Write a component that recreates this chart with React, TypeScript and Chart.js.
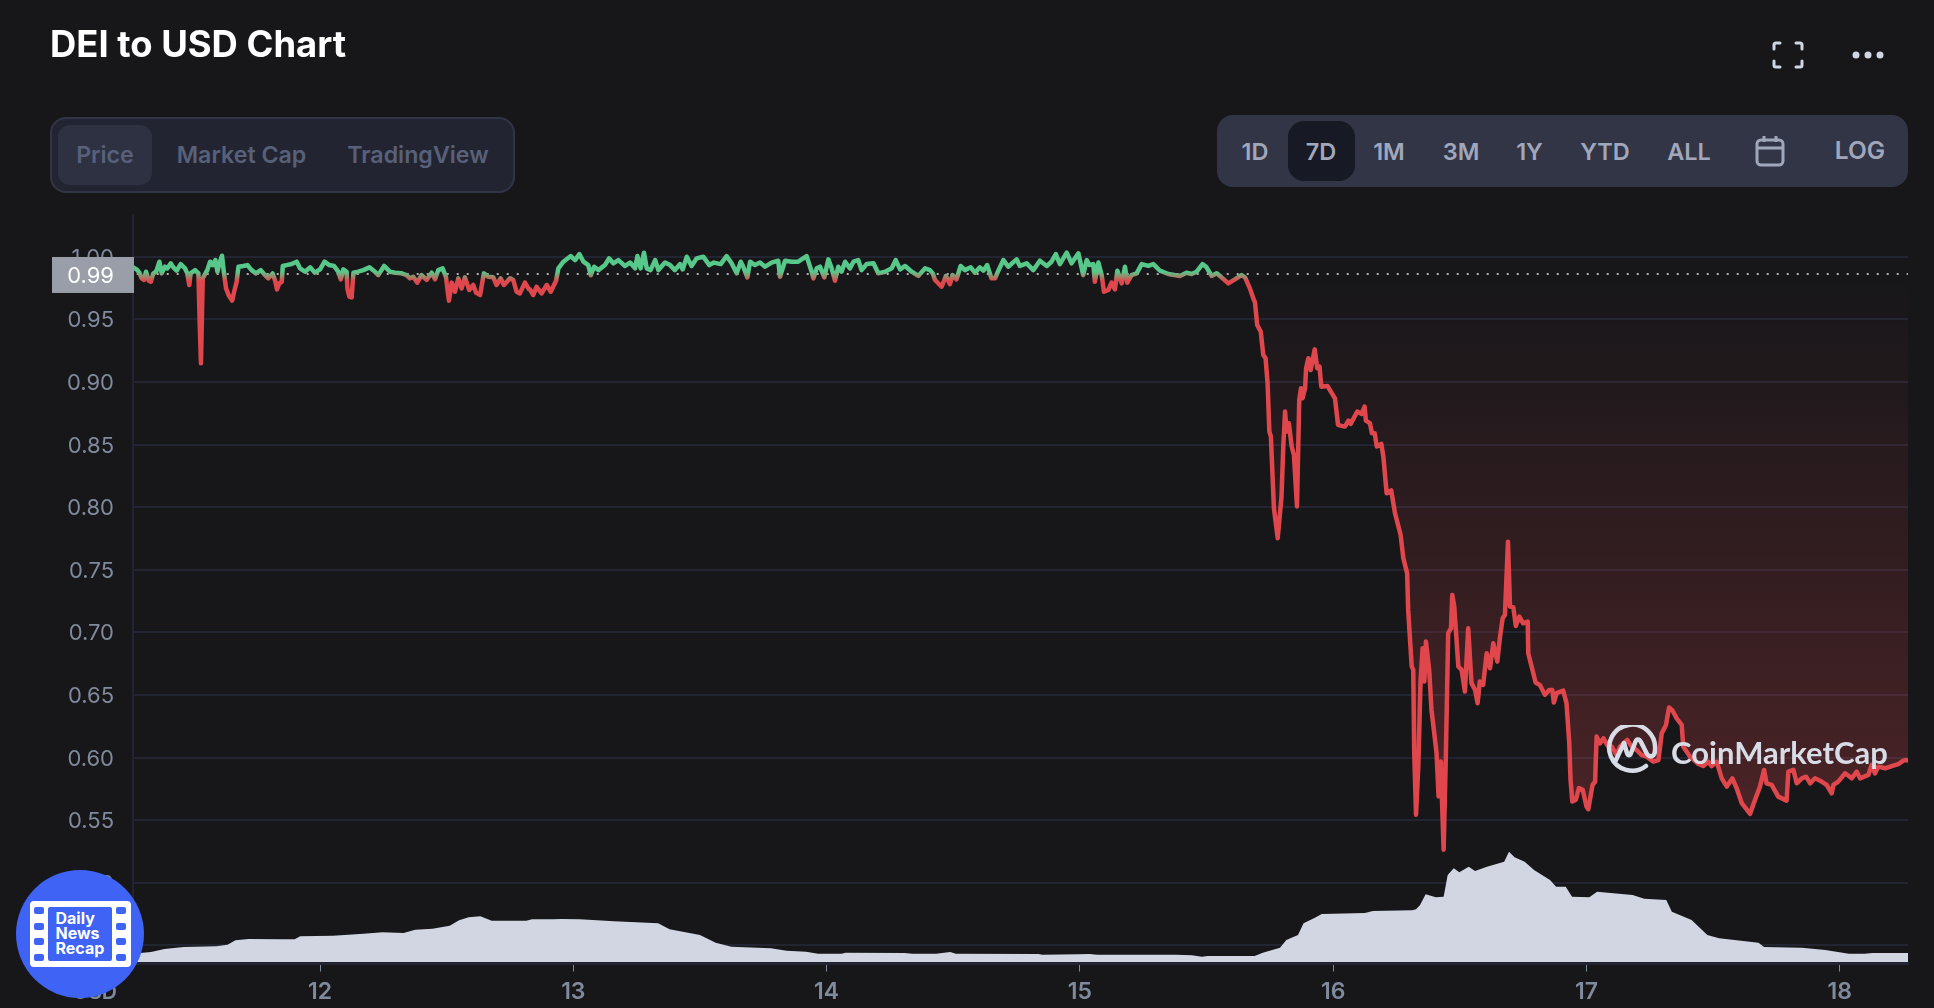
import { useEffect, useRef } from "react";
import Chart from "chart.js/auto";

const titleText = "DEI to USD Chart";
const chartTabs = ["Price", "Market Cap", "TradingView"];
const rangeTabs = ["1D", "7D", "1M", "3M", "1Y", "YTD", "ALL"];
const yTicks = [0.45, 0.5, 0.55, 0.6, 0.65, 0.7, 0.75, 0.8, 0.85, 0.9, 0.95, 1.0];
const xTicks = [12, 13, 14, 15, 16, 17, 18];
const lastPrice = 0.9862;

const priceDays = [
  11.263, 11.276, 11.287, 11.296, 11.305, 11.313, 11.324, 11.332, 11.342, 11.353, 11.366, 11.375, 11.388, 11.397, 11.411, 11.421, 11.434, 11.45, 11.467, 11.476,
  11.484, 11.489, 11.507, 11.52, 11.525, 11.53, 11.537, 11.555, 11.566, 11.576, 11.587, 11.595, 11.603, 11.613, 11.621, 11.629, 11.639, 11.653, 11.661, 11.671,
  11.678, 11.697, 11.713, 11.73, 11.747, 11.766, 11.783, 11.796, 11.813, 11.824, 11.83, 11.839, 11.849, 11.853, 11.868, 11.888, 11.908, 11.921, 11.941, 11.961,
  11.98, 12.0, 12.018, 12.037, 12.055, 12.072, 12.082, 12.092, 12.105, 12.108, 12.116, 12.125, 12.132, 12.151, 12.171, 12.195, 12.217, 12.23, 12.253, 12.276,
  12.296, 12.322, 12.342, 12.355, 12.368, 12.384, 12.401, 12.421, 12.441, 12.454, 12.467, 12.484, 12.497, 12.509, 12.52, 12.533, 12.546, 12.559, 12.572, 12.589,
  12.605, 12.616, 12.632, 12.647, 12.664, 12.684, 12.697, 12.713, 12.726, 12.75, 12.763, 12.776, 12.789, 12.809, 12.825, 12.829, 12.842, 12.855, 12.875, 12.895,
  12.911, 12.932, 12.941, 12.961, 12.99, 13.007, 13.024, 13.04, 13.059, 13.069, 13.082, 13.099, 13.125, 13.141, 13.158, 13.178, 13.204, 13.224, 13.244, 13.253,
  13.266, 13.279, 13.29, 13.305, 13.323, 13.336, 13.362, 13.382, 13.401, 13.421, 13.432, 13.448, 13.467, 13.487, 13.513, 13.537, 13.555, 13.582, 13.605, 13.625,
  13.645, 13.661, 13.671, 13.687, 13.698, 13.717, 13.737, 13.757, 13.783, 13.809, 13.816, 13.836, 13.862, 13.888, 13.921, 13.941, 13.948, 13.961, 13.974, 13.991,
  14.007, 14.02, 14.033, 14.046, 14.059, 14.073, 14.092, 14.106, 14.125, 14.138, 14.158, 14.185, 14.204, 14.231, 14.257, 14.273, 14.29, 14.31, 14.336, 14.362,
  14.389, 14.408, 14.419, 14.428, 14.454, 14.471, 14.487, 14.497, 14.513, 14.529, 14.546, 14.569, 14.586, 14.605, 14.619, 14.634, 14.651, 14.665, 14.678, 14.698,
  14.717, 14.75, 14.763, 14.79, 14.816, 14.842, 14.869, 14.888, 14.905, 14.921, 14.948, 14.967, 14.994, 15.013, 15.027, 15.037, 15.053, 15.059, 15.073, 15.086,
  15.095, 15.112, 15.125, 15.138, 15.148, 15.165, 15.178, 15.187, 15.204, 15.224, 15.244, 15.27, 15.29, 15.316, 15.349, 15.395, 15.421, 15.441, 15.461, 15.484,
  15.5, 15.52, 15.54, 15.559, 15.586, 15.612, 15.638, 15.652, 15.671, 15.687, 15.691, 15.7, 15.714, 15.724, 15.733, 15.741, 15.748, 15.754, 15.766, 15.781,
  15.796, 15.803, 15.81, 15.816, 15.825, 15.836, 15.845, 15.857, 15.866, 15.873, 15.879, 15.889, 15.893, 15.902, 15.911, 15.927, 15.937, 15.946, 15.953, 15.977,
  16.007, 16.019, 16.033, 16.046, 16.06, 16.069, 16.095, 16.112, 16.124, 16.129, 16.145, 16.153, 16.164, 16.172, 16.19, 16.198, 16.211, 16.229, 16.244, 16.266,
  16.277, 16.292, 16.296, 16.31, 16.316, 16.32, 16.327, 16.336, 16.345, 16.353, 16.36, 16.366, 16.379, 16.388, 16.402, 16.408, 16.416, 16.425, 16.429, 16.436,
  16.445, 16.454, 16.465, 16.47, 16.478, 16.494, 16.507, 16.52, 16.533, 16.546, 16.56, 16.57, 16.579, 16.592, 16.606, 16.619, 16.632, 16.648, 16.658, 16.669,
  16.678, 16.69, 16.698, 16.711, 16.721, 16.735, 16.75, 16.768, 16.77, 16.79, 16.799, 16.816, 16.836, 16.853, 16.865, 16.871, 16.882, 16.908, 16.921, 16.932,
  16.937, 16.944, 16.958, 16.97, 16.985, 17.0, 17.007, 17.024, 17.034, 17.04, 17.053, 17.067, 17.082, 17.1, 17.119, 17.132, 17.161, 17.178, 17.198, 17.218,
  17.238, 17.264, 17.284, 17.297, 17.314, 17.326, 17.34, 17.356, 17.376, 17.382, 17.409, 17.442, 17.461, 17.481, 17.494, 17.514, 17.534, 17.554, 17.576, 17.593,
  17.613, 17.646, 17.665, 17.685, 17.701, 17.711, 17.731, 17.757, 17.79, 17.797, 17.817, 17.83, 17.85, 17.867, 17.883, 17.902, 17.922, 17.948, 17.968, 17.975,
  17.994, 18.021, 18.047, 18.067, 18.08, 18.113, 18.126, 18.139, 18.152, 18.179, 18.205, 18.231, 18.251, 18.262, 18.27,
];

const priceValues = [
  0.9915, 0.9899, 0.9872, 0.9827, 0.9814, 0.988, 0.9808, 0.98, 0.9867, 0.988, 0.996, 0.9867, 0.992, 0.9907, 0.9947, 0.9915, 0.9888, 0.9941, 0.9907, 0.9867,
  0.9774, 0.9867, 0.9893, 0.9867, 0.9468, 0.9148, 0.9827, 0.9893, 0.996, 0.9933, 0.9973, 0.988, 0.9947, 1.0008, 0.9867, 0.9747, 0.9694, 0.9649, 0.972, 0.98,
  0.992, 0.9926, 0.9933, 0.9893, 0.9867, 0.9893, 0.9853, 0.9827, 0.9867, 0.98, 0.9739, 0.9787, 0.98, 0.9926, 0.9933, 0.9941, 0.996, 0.9907, 0.988, 0.9915,
  0.9872, 0.9899, 0.996, 0.9933, 0.9926, 0.988, 0.9819, 0.9899, 0.988, 0.9747, 0.968, 0.9675, 0.9872, 0.988, 0.9893, 0.9915, 0.988, 0.9853, 0.9926, 0.988,
  0.9872, 0.9867, 0.9853, 0.9827, 0.984, 0.9793, 0.9853, 0.9814, 0.9872, 0.9819, 0.9893, 0.9907, 0.984, 0.9649, 0.9793, 0.972, 0.9827, 0.9747, 0.9835, 0.9734,
  0.9774, 0.9713, 0.9694, 0.9867, 0.984, 0.9835, 0.9774, 0.9827, 0.9774, 0.9827, 0.9814, 0.972, 0.9707, 0.9793, 0.9739, 0.9739, 0.9694, 0.976, 0.9707, 0.9774,
  0.972, 0.9808, 0.9907, 0.996, 1.0005, 0.9973, 1.0021, 0.996, 0.9933, 0.9853, 0.992, 0.9893, 0.9933, 0.9987, 0.9947, 0.9973, 0.9926, 0.9953, 0.9907, 1.0005,
  0.9907, 1.0032, 0.9907, 0.9893, 0.9973, 0.9893, 0.9953, 0.9933, 0.9893, 0.9941, 0.9899, 1.0, 0.9926, 0.9987, 1.0, 0.9933, 0.9953, 0.9941, 1.0005, 0.9947,
  0.9867, 0.996, 0.992, 0.9835, 0.996, 0.9933, 0.9953, 0.992, 0.9953, 0.9968, 0.984, 0.9968, 0.996, 0.996, 1.0005, 0.988, 0.9827, 0.9907, 0.992, 0.9835,
  0.9979, 0.9907, 0.9808, 0.992, 0.988, 0.996, 0.9907, 0.996, 0.9973, 0.9893, 0.9941, 0.9947, 0.9867, 0.988, 0.9907, 0.9973, 0.9899, 0.9926, 0.988, 0.9846,
  0.9907, 0.9893, 0.9867, 0.9814, 0.976, 0.9846, 0.978, 0.9853, 0.9819, 0.9926, 0.9893, 0.9915, 0.9872, 0.9915, 0.9888, 0.9933, 0.9827, 0.9827, 0.9888, 0.9973,
  0.992, 0.9979, 0.9926, 0.9947, 0.9893, 0.9968, 0.9926, 0.996, 1.0021, 0.9941, 1.0032, 0.9947, 1.0027, 0.9853, 0.9973, 0.9933, 0.9941, 0.98, 0.9953, 0.9853,
  0.972, 0.9734, 0.9793, 0.9739, 0.9888, 0.9787, 0.992, 0.9793, 0.9853, 0.9867, 0.9941, 0.9926, 0.9941, 0.9888, 0.9862, 0.9846, 0.9872, 0.9862, 0.988, 0.9941,
  0.9915, 0.9846, 0.9867, 0.9835, 0.9787, 0.9819, 0.9853, 0.9835, 0.9747, 0.9654, 0.964, 0.9455, 0.9401, 0.9215, 0.9189, 0.8989, 0.8603, 0.8563, 0.7992, 0.7752,
  0.8085, 0.8484, 0.8763, 0.8603, 0.867, 0.8484, 0.8417, 0.8005, 0.8856, 0.8949, 0.8869, 0.8949, 0.9109, 0.9189, 0.9095, 0.926, 0.9109, 0.9122, 0.8962, 0.8968,
  0.8869, 0.8657, 0.8649, 0.8643, 0.8691, 0.8665, 0.8763, 0.8744, 0.8803, 0.8691, 0.867, 0.859, 0.859, 0.8484, 0.8505, 0.8404, 0.8111, 0.8133, 0.7952, 0.7779,
  0.7592, 0.7471, 0.7179, 0.6727, 0.67, 0.6035, 0.5543, 0.5929, 0.662, 0.6873, 0.6607, 0.6926, 0.67, 0.638, 0.6141, 0.6035, 0.5689, 0.5968, 0.5689, 0.5264,
  0.6035, 0.6993, 0.7032, 0.7298, 0.7205, 0.6727, 0.67, 0.6527, 0.7032, 0.6594, 0.654, 0.6434, 0.6607, 0.658, 0.6833, 0.6713, 0.6913, 0.6766, 0.6953, 0.7112,
  0.7139, 0.7724, 0.7205, 0.72, 0.7051, 0.7126, 0.7072, 0.7086, 0.6833, 0.6673, 0.6599, 0.658, 0.6501, 0.654, 0.654, 0.6439, 0.6514, 0.6535, 0.6434, 0.6115,
  0.5822, 0.5649, 0.5663, 0.5756, 0.5742, 0.5609, 0.5587, 0.5781, 0.5808, 0.6167, 0.6113, 0.6153, 0.61, 0.6087, 0.602, 0.6087, 0.614, 0.6087, 0.606, 0.602,
  0.6007, 0.5967, 0.598, 0.6193, 0.626, 0.64, 0.6374, 0.6313, 0.626, 0.6087, 0.6007, 0.5948, 0.5932, 0.5967, 0.5932, 0.5967, 0.5834, 0.5768, 0.5834, 0.5754,
  0.5635, 0.555, 0.5661, 0.5768, 0.5901, 0.5794, 0.5781, 0.5688, 0.5656, 0.5887, 0.5901, 0.5794, 0.5834, 0.5847, 0.5794, 0.5834, 0.5815, 0.5781, 0.5714, 0.5781,
  0.5808, 0.5874, 0.5834, 0.5887, 0.5834, 0.5861, 0.5941, 0.5874, 0.5927, 0.5914, 0.5932, 0.5948, 0.5975, 0.598, 0.5975,
];

const volumeDays = [
  11.262, 11.28, 11.333, 11.386, 11.462, 11.59, 11.635, 11.666, 11.718, 11.847, 11.9, 11.922, 12.051, 12.172, 12.247, 12.33, 12.376, 12.444, 12.512, 12.549,
  12.587, 12.633, 12.678, 12.814, 12.837, 12.92, 12.95, 13.025, 13.161, 13.335, 13.38, 13.5, 13.562, 13.624, 13.78, 13.842, 13.919, 13.966, 14.059, 14.075,
  14.308, 14.339, 14.432, 14.488, 14.51, 14.836, 14.852, 14.991, 15.038, 15.069, 15.38, 15.442, 15.482, 15.504, 15.69, 15.722, 15.79, 15.815, 15.861, 15.883,
  15.924, 15.955, 16.125, 16.157, 16.312, 16.327, 16.343, 16.365, 16.405, 16.436, 16.452, 16.476, 16.498, 16.535, 16.56, 16.607, 16.675, 16.694, 16.716, 16.756,
  16.793, 16.856, 16.88, 16.918, 16.943, 17.011, 17.042, 17.182, 17.228, 17.315, 17.337, 17.415, 17.477, 17.524, 17.679, 17.701, 17.85, 17.943, 18.036, 18.098,
  18.129, 18.27,
];

const volumeValues = [
  6, 8.7, 10, 13, 15, 15.7, 17.3, 21.7, 23, 22.7, 22.7, 25.7, 26.3, 28.3, 29.7, 29, 32.3, 33.3, 36.3, 41.7,
  44.7, 45.7, 41.3, 41.3, 42.7, 42.7, 43, 42.7, 40.7, 38.7, 32.7, 27, 19.3, 15.3, 13.7, 11.3, 10.3, 8.3, 8.3, 9.3,
  9, 8.3, 8.3, 10, 8.3, 8, 7.3, 7.7, 8, 7.3, 7.3, 6.7, 5.3, 6, 6, 9.3, 14.3, 22, 27, 38.7,
  43.7, 48, 49, 51, 51.7, 52.7, 57, 67.7, 64.7, 65.3, 87, 93.7, 89.7, 95.3, 91, 95.3, 100.3, 110.3, 104.7, 100.3,
  92, 82, 75.3, 75.3, 65.3, 64.7, 70.3, 67, 63.3, 62, 50.3, 42, 27, 23.7, 19.3, 15, 14.3, 12, 8.3, 8.3,
  9, 9,
];

const FONT = "Inter, sans-serif";
const BG = "#17171a";
const GRID = "#222531";
const TICK_TEXT = "#808a9d";

function strokeGradient(chart: Chart) {
  const y = chart.scales.y;
  const p = y ? y.getPixelForValue(lastPrice) : NaN;
  if (!chart.chartArea || !Number.isFinite(p)) return "#e0474c";
  const g = chart.ctx.createLinearGradient(0, p - 2, 0, p + 7);
  g.addColorStop(0, "#58c88a");
  g.addColorStop(1, "#e0474c");
  return g;
}

function fillGradient(chart: Chart) {
  const y = chart.scales.y;
  const p = y ? y.getPixelForValue(lastPrice) : NaN;
  if (!chart.chartArea || !Number.isFinite(p) || !(y.bottom > y.top)) return "rgba(0,0,0,0)";
  const stop = (p - y.top) / (y.bottom - y.top);
  const g = chart.ctx.createLinearGradient(0, y.top, 0, y.bottom);
  g.addColorStop(0, "rgba(22,199,132,0.08)");
  g.addColorStop(stop, "rgba(22,199,132,0)");
  g.addColorStop(stop, "rgba(224,71,76,0)");
  g.addColorStop(1, "rgba(224,71,76,0.33)");
  return g;
}

// grey box with the last price, sits on top of the 1.00 tick label
const lastPriceTag = {
  id: "lastPriceTag",
  afterDraw(chart: Chart) {
    const { ctx } = chart;
    const p = chart.scales.y.getPixelForValue(lastPrice);
    ctx.save();
    ctx.fillStyle = "#9a9ea8";
    ctx.fillRect(52, p - 17, 82, 36);
    ctx.fillStyle = "#ffffff";
    ctx.font = `22px ${FONT}`;
    ctx.textAlign = "right";
    ctx.textBaseline = "middle";
    ctx.fillText(lastPrice.toFixed(2), 114, p + 2.5);
    ctx.restore();
  },
};

function PriceChart() {
  const canvasRef = useRef<HTMLCanvasElement>(null);

  useEffect(() => {
    if (!canvasRef.current) return;
    const chart = new Chart(canvasRef.current, {
      type: "line",
      data: {
        datasets: [
          {
            label: "Volume",
            data: volumeDays.map((x, i) => ({ x, y: volumeValues[i] })),
            yAxisID: "volume",
            borderWidth: 0,
            backgroundColor: "#d1d6e2",
            fill: "origin",
            pointRadius: 0,
            order: 1,
          },
          {
            label: "Price",
            data: priceDays.map((x, i) => ({ x, y: priceValues[i] })),
            yAxisID: "y",
            borderWidth: 4.5,
            borderColor: (c: any) => strokeGradient(c.chart),
            backgroundColor: (c: any) => fillGradient(c.chart),
            fill: { target: { value: lastPrice } },
            borderJoinStyle: "round",
            borderCapStyle: "round",
            pointRadius: 0,
            order: 2,
          },
          {
            label: "Last",
            data: [
              { x: xTicks[0] - 1, y: lastPrice },
              { x: xTicks[xTicks.length - 1] + 1, y: lastPrice },
            ],
            yAxisID: "y",
            borderWidth: 2,
            borderColor: "rgba(255,255,255,0.65)",
            borderDash: [2, 8],
            pointRadius: 0,
            fill: false,
            order: 3,
          },
        ],
      },
      options: {
        responsive: false,
        animation: false,
        events: [],
        layout: { padding: { top: 215, right: 26, left: 0, bottom: 0 } },
        plugins: { legend: { display: false }, tooltip: { enabled: false } },
        scales: {
          x: {
            type: "linear",
            min: 11.2617,
            max: 18.2693,
            afterFit: (s: any) => {
              s.height = 1008 - 963.5;
            },
            afterBuildTicks: (s: any) => {
              s.ticks = xTicks.map((value) => ({ value }));
            },
            grid: { drawOnChartArea: false, drawTicks: true, tickLength: 8, tickWidth: 1, tickColor: TICK_TEXT },
            border: { color: GRID, width: 3, z: 1 },
            ticks: {
              color: TICK_TEXT,
              font: { family: FONT, size: 23, weight: 600 },
              padding: 7,
              maxRotation: 0,
              autoSkip: false,
              callback: (v: any) => String(v),
            },
          },
          y: {
            min: 0.4355,
            max: 1.0333,
            afterFit: (s: any) => {
              s.width = 133;
            },
            afterBuildTicks: (s: any) => {
              s.ticks = yTicks.map((value) => ({ value }));
            },
            grid: { color: GRID, lineWidth: 2, drawTicks: false, tickLength: 0 },
            border: { color: GRID, width: 2 },
            ticks: {
              color: TICK_TEXT,
              font: { family: FONT, size: 22 },
              padding: 19,
              labelOffset: 1.5,
              autoSkip: false,
              callback: (v: any) => Number(v).toFixed(2),
            },
          },
          volume: { display: false, min: -1.5, max: 747 },
        },
      },
      plugins: [lastPriceTag],
    } as any);
    return () => chart.destroy();
  }, []);

  return <canvas ref={canvasRef} width={1934} height={1008} style={{ position: "absolute", left: 0, top: 0 }} />;
}

function Box({ x, y, w, h, style, children }: any) {
  return <div style={{ position: "absolute", left: x, top: y, width: w, height: h, boxSizing: "border-box", ...style }}>{children}</div>;
}

// text centred on a point
function Label({ cx, cy, size, weight, color, children, family }: any) {
  return (
    <div
      style={{
        position: "absolute",
        left: cx,
        top: cy,
        transform: "translate(-50%,-50%)",
        font: `${weight} ${size}px ${family || FONT}`,
        color,
        whiteSpace: "nowrap",
      }}
    >
      {children}
    </div>
  );
}

const chartTabCentres = [105, 241.5, 418];
const rangeTabCentres = [1255, 1321, 1389, 1461, 1529.5, 1605, 1689];
const filmHoleRows = [907, 923, 938, 954];

function DailyNewsBadge() {
  return (
    <>
      <Box x={16} y={870} w={128} h={128} style={{ background: "#3f63f4", borderRadius: "50%" }} />
      <Box x={29.5} y={901} w={101} h={66} style={{ background: "#fff", borderRadius: 4 }} />
      <Box x={48} y={907} w={64} h={54} style={{ background: "#3f63f4", borderRadius: 2 }} />
      {filmHoleRows.map((y) => (
        <Box key={y} x={34} y={y} w={10} h={7} style={{ background: "#3f63f4", borderRadius: 2 }} />
      ))}
      {filmHoleRows.map((y) => (
        <Box key={y} x={116} y={y} w={10} h={7} style={{ background: "#3f63f4", borderRadius: 2 }} />
      ))}
      <div style={{ position: "absolute", left: 55.5, top: 911, font: `700 16px/15px ${FONT}`, color: "#fff" }}>
        Daily
        <br />
        News
        <br />
        Recap
      </div>
    </>
  );
}

export default function App() {
  return (
    <div style={{ position: "fixed", left: 0, top: 0, width: 1934, height: 1008, background: BG, overflow: "hidden" }}>
      <PriceChart />

      <div style={{ position: "absolute", left: 50, top: 21.5, font: `700 36.4px ${FONT}`, color: "#fff", whiteSpace: "nowrap" }}>{titleText}</div>

      {/* chart type switch */}
      <Box x={50} y={117} w={465} h={76} style={{ background: "#222531", border: "2px solid #323546", borderRadius: 16 }} />
      <Box x={58} y={125} w={94} h={60} style={{ background: "#2e3142", borderRadius: 12 }} />
      {chartTabs.map((t, i) => (
        <Label key={t} cx={chartTabCentres[i]} cy={155} size={23.2} weight={600} color="#58607a">
          {t}
        </Label>
      ))}

      {/* time range */}
      <Box x={1217} y={115} w={691} h={72} style={{ background: "#323546", borderRadius: 16 }} />
      <Box x={1288} y={121} w={67} h={60} style={{ background: "#171924", borderRadius: 16 }} />
      {rangeTabs.map((t, i) => (
        <Label key={t} cx={rangeTabCentres[i]} cy={151} size={23.5} weight={600} color="#a1a7bb">
          {t}
        </Label>
      ))}
      <Label cx={1860} cy={149.5} size={24.5} weight={600} color="#a1a7bb">
        LOG
      </Label>
      <svg style={{ position: "absolute", left: 1754, top: 135, width: 32, height: 32 }} viewBox="0 0 32 32" fill="none" stroke="#a1a7bb" strokeWidth={3}>
        <rect x="3" y="5" width="26" height="25" rx="4" />
        <path d="M3 13H29M10 1V7M22 1V7" />
      </svg>

      {/* fullscreen and menu icons */}
      <svg style={{ position: "absolute", left: 1772, top: 41, width: 32, height: 28 }} viewBox="0 0 32 28" fill="none" stroke="#cfd6e4" strokeWidth={3} strokeLinecap="round">
        <path d="M2 8V4a2 2 0 0 1 2-2h4M24 2h4a2 2 0 0 1 2 2v4M30 20v4a2 2 0 0 1-2 2h-4M8 26H4a2 2 0 0 1-2-2v-4" />
      </svg>
      <svg style={{ position: "absolute", left: 1850, top: 48, width: 36, height: 14 }} viewBox="0 0 36 14" fill="#cfd6e4">
        <circle cx="6" cy="7" r="3.5" />
        <circle cx="18" cy="7" r="3.5" />
        <circle cx="30" cy="7" r="3.5" />
      </svg>

      {/* watermark */}
      <svg style={{ position: "absolute", left: 1606, top: 725, width: 52, height: 52 }} viewBox="0 0 52 52" fill="none" stroke="#d8dce6" strokeWidth={4.5} strokeLinecap="round" strokeLinejoin="round">
        <path d="M40 41A23 23 0 1 1 49 25C49 32 44 33 41 29L35 17C33 13 30 14 29 18L25 28C24 31 22 31 21 28L18 18L9 37" />
      </svg>
      <Label cx={1779.5} cy={752} size={31} weight={700} color="#d8dce6" family="Lato, sans-serif">
        CoinMarketCap
      </Label>

      <div style={{ position: "absolute", right: 1934 - 117, top: 979, font: `600 21px ${FONT}`, color: TICK_TEXT }}>USD</div>
      <DailyNewsBadge />
    </div>
  );
}
